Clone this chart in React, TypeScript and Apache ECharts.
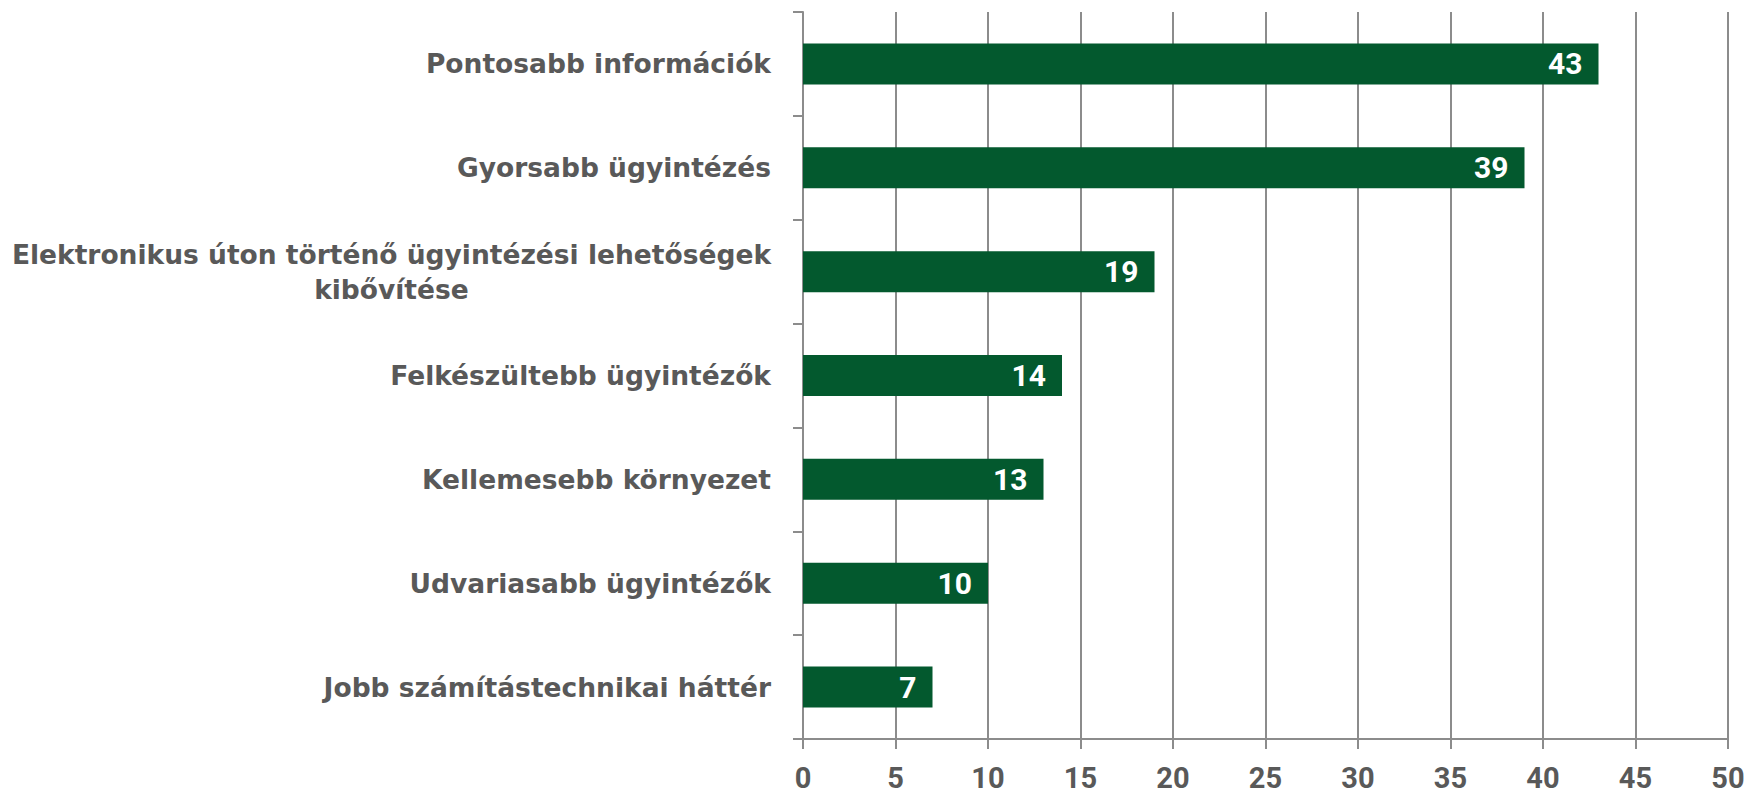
import React, { useEffect, useRef } from "react";
import * as echarts from "echarts";

const categories: string[] = [
  "Pontosabb információk",
  "Gyorsabb ügyintézés",
  "Elektronikus úton történő ügyintézési lehetőségek\nkibővítése",
  "Felkészültebb ügyintézők",
  "Kellemesebb környezet",
  "Udvariasabb ügyintézők",
  "Jobb számítástechnikai háttér",
];
const values: number[] = [43, 39, 19, 14, 13, 10, 7];
const xTicks: number[] = [0, 5, 10, 15, 20, 25, 30, 35, 40, 45, 50];

const CAT_FONT = "DejaVu Sans";
const CAT_SIZE = 26.5;

export default function App() {
  const ref = useRef<HTMLDivElement>(null);
  useEffect(() => {
    document.body.style.margin = "0";
    if (!ref.current) return;
    const canvas = document.createElement("canvas");
    const ctx = canvas.getContext("2d")!;
    ctx.font = `bold ${CAT_SIZE}px "${CAT_FONT}"`;
    const firstLineWidth = ctx.measureText(categories[2].split("\n")[0]).width;
    const chart = echarts.init(ref.current, undefined, { renderer: "svg" });
    chart.setOption({
      animation: false,
      backgroundColor: "#ffffff",
      grid: { left: 803, right: 21, top: 12, bottom: 56, containLabel: false },
      xAxis: {
        type: "value",
        min: xTicks[0],
        max: xTicks[xTicks.length - 1],
        interval: 5,
        axisLine: { show: true, lineStyle: { color: "#8c8c8c", width: 2 } },
        axisTick: { show: true, length: 10, lineStyle: { color: "#8c8c8c", width: 2 } },
        splitLine: { show: true, lineStyle: { color: "#8c8c8c", width: 2 } },
        axisLabel: {
          margin: 24,
          color: "#595959",
          fontFamily: "Roboto",
          fontWeight: "bold",
          fontSize: 29,
        },
      },
      yAxis: {
        type: "category",
        data: categories,
        inverse: true,
        axisLine: { show: true, lineStyle: { color: "#8c8c8c", width: 2 } },
        axisTick: { show: true, length: 10, alignWithLabel: false, lineStyle: { color: "#8c8c8c", width: 2 } },
        splitLine: { show: false },
        axisLabel: {
          margin: 32,
          color: "#595959",
          fontFamily: CAT_FONT,
          fontWeight: "bold",
          fontSize: CAT_SIZE,
          lineHeight: 35,
          formatter: (v: string) => {
            if (v.indexOf("\n") < 0) return v;
            return v.split("\n").map((l) => `{c|${l}}`).join("\n");
          },
          rich: {
            c: {
              width: firstLineWidth,
              align: "center",
              color: "#595959",
              fontFamily: CAT_FONT,
              fontWeight: "bold",
              fontSize: CAT_SIZE,
              lineHeight: 35,
            },
          },
        },
      },
      series: [
        {
          type: "bar",
          data: values,
          barWidth: 41,
          itemStyle: { color: "#03592e" },
          label: {
            show: true,
            position: "insideRight",
            distance: 16,
            color: "#ffffff",
            fontFamily: "Roboto",
            fontWeight: "bold",
            fontSize: 30,
          },
        },
      ],
    });
    return () => chart.dispose();
  }, []);
  return <div ref={ref} style={{ width: 1749, height: 795 }} />;
}
